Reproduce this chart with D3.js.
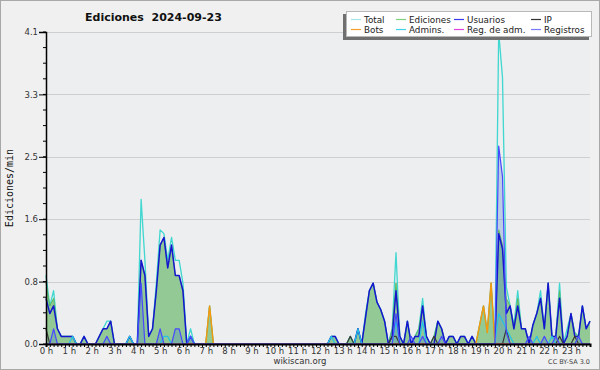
<!DOCTYPE html>
<html><head><meta charset="utf-8">
<script src="https://cdn.jsdelivr.net/npm/d3@7/dist/d3.min.js"></script>
<style>body{margin:0;background:#f0f0f0}svg{display:block}</style>
</head><body><svg id="c" width="600" height="370"></svg>
<script>
// ---- data (10-minute buckets, edits per minute) ----
const hourLabels = ["0 h","1 h","2 h","3 h","4 h","5 h","6 h","7 h","8 h","9 h","10 h","11 h","12 h","13 h","14 h","15 h","16 h","17 h","18 h","19 h","20 h","21 h","22 h","23 h"];
const yTickValues = [0, 0.82, 1.64, 2.46, 3.28, 4.1];
const yTickLabels = ["0.0","0.8","1.6","2.5","3.3","4.1"];
const seriesNames = ["Total","Ediciones","Usuarios","IP","Bots","Admins.","Reg. de adm.","Registros"];
const total = [
 0.9,0.5,0.7,0.2,0.1,0.1, 0.1,0.1,0,0,0.1,0, 0,0,0.1,0.2,0.3,0.3, 0,0,0,0,0.1,0,
 0,1.9,1.1,0.1,0.2,0.8, 1.5,1.45,1.1,1.4,1.1,1.1, 0.8,0,0.2,0,0,0, 0,0.5,0,0,0,0,
 0,0,0,0,0,0, 0,0,0,0,0,0, 0,0,0,0,0,0, 0,0,0,0,0,0,
 0,0,0,0.1,0.1,0, 0,0,0.1,0,0.2,0, 0.4,0.7,0.8,0.55,0.45,0.3, 0,0.2,1.2,0.1,0,0.3,
 0,0.1,0.2,0.6,0.1,0, 0.1,0.3,0.2,0,0.1,0.1, 0,0.1,0.1,0,0.1,0, 0.25,0.5,0.15,0.8,0,4.1,
 3.5,0.75,0.5,0.25,0.7,0.2, 0.2,0,0.25,0.4,0.7,0.2, 0.8,0.1,0.1,0.8,0,0.2, 0.4,0.15,0.1,0.5,0.2,0.3];
const ediciones = [
 0.8,0.5,0.6,0.2,0.1,0.1, 0.1,0.1,0,0,0.1,0, 0,0,0.1,0.2,0.2,0.3, 0,0,0,0,0.1,0,
 0,1.1,0.9,0.1,0.2,0.7, 1.3,1.4,1.0,1.3,0.9,0.9, 0.7,0,0.1,0,0,0, 0,0.5,0,0,0,0,
 0,0,0,0,0,0, 0,0,0,0,0,0, 0,0,0,0,0,0, 0,0,0,0,0,0,
 0,0,0,0.1,0.1,0, 0,0,0.1,0,0.2,0, 0.35,0.7,0.8,0.55,0.45,0.3, 0,0.2,0.8,0.1,0,0.3,
 0,0.1,0.2,0.5,0.1,0, 0.1,0.3,0.2,0,0.1,0.1, 0,0.1,0.1,0,0.1,0, 0.25,0.5,0.15,0.8,0,1.5,
 1.3,0.6,0.5,0.2,0.6,0.2, 0.2,0,0.25,0.4,0.6,0.2, 0.8,0.1,0.1,0.7,0,0.1, 0.4,0.15,0.1,0.5,0.2,0.3];
const usuarios = [
 0.6,0.4,0.5,0.2,0.1,0.1, 0.1,0.1,0,0,0.1,0, 0,0,0.1,0.2,0.2,0.3, 0,0,0,0,0.1,0,
 0,1.1,0.9,0.1,0.2,0.7, 1.3,1.4,1.0,1.3,0.9,0.9, 0.7,0,0.1,0,0,0, 0,0,0,0,0,0,
 0,0,0,0,0,0, 0,0,0,0,0,0, 0,0,0,0,0,0, 0,0,0,0,0,0,
 0,0,0,0.1,0.1,0, 0,0,0,0,0.2,0, 0.35,0.7,0.8,0.55,0.45,0.3, 0,0.1,0.7,0.1,0,0.3,
 0,0.1,0.1,0.5,0.1,0, 0,0.3,0.2,0,0.1,0.1, 0,0.1,0.1,0,0.1,0, 0,0,0,0,0,1.45,
 1.25,0.4,0.5,0.2,0.5,0.2, 0.2,0,0.25,0.4,0.6,0.2, 0.8,0.1,0.1,0.6,0,0.1, 0.4,0.1,0.1,0.5,0.2,0.3];
const ip = [
 0.2,0,0,0,0,0, 0,0,0,0,0,0, 0,0,0,0,0,0, 0,0,0,0,0,0,
 0,0,0,0,0,0, 0,0,0,0,0,0, 0,0,0,0,0,0, 0,0,0,0,0,0,
 0,0,0,0,0,0, 0,0,0,0,0,0, 0,0,0,0,0,0, 0,0,0,0,0,0,
 0,0,0,0,0,0, 0,0,0.1,0,0,0, 0,0,0,0,0,0, 0,0.1,0.1,0,0,0,
 0,0,0,0,0,0, 0.1,0,0,0,0,0, 0,0,0,0,0,0, 0,0,0,0,0,0,
 0,0.2,0,0,0,0, 0,0,0,0,0,0, 0,0,0,0.1,0,0, 0,0.1,0,0,0,0];
const bots = [
 0,0,0,0,0,0, 0,0,0,0,0,0, 0,0,0,0,0,0, 0,0,0,0,0,0,
 0,0,0,0,0,0, 0,0,0,0,0,0, 0,0,0,0,0,0, 0,0.5,0,0,0,0,
 0,0,0,0,0,0, 0,0,0,0,0,0, 0,0,0,0,0,0, 0,0,0,0,0,0,
 0,0,0,0,0,0, 0,0,0,0,0,0, 0,0,0,0,0,0, 0,0,0,0,0,0,
 0,0,0,0,0,0, 0,0,0,0,0,0, 0,0,0,0,0,0, 0.25,0.5,0.15,0.8,0,0,
 0,0,0,0,0,0, 0,0,0,0,0,0, 0,0,0,0,0,0, 0,0,0,0,0,0];
const admins = [
 0,0,0,0,0,0, 0,0.1,0,0,0,0, 0,0,0,0,0,0, 0,0,0,0,0.1,0,
 0,0,0,0,0,0, 0,0.1,0.1,0,0,0, 0,0,0.1,0,0,0, 0,0,0,0,0,0,
 0,0,0,0,0,0, 0,0,0,0,0,0, 0,0,0,0,0,0, 0,0,0,0,0,0,
 0,0,0,0.1,0,0, 0,0,0,0,0.2,0, 0,0,0,0,0,0, 0,0,0.3,0,0,0,
 0,0,0,0.3,0,0, 0,0,0,0,0,0, 0,0,0,0,0,0, 0,0,0,0,0,0.4,
 0.3,0.2,0.1,0,0,0, 0,0,0,0.1,0,0, 0,0.1,0,0,0,0, 0,0,0,0,0,0];
const regAdm = [
 0,0,0,0,0,0, 0,0,0,0,0,0, 0,0,0,0,0,0, 0,0,0,0,0,0,
 0,0,0,0,0,0, 0,0,0,0,0,0, 0,0,0,0,0,0, 0,0,0,0,0,0,
 0,0,0,0,0,0, 0,0,0,0,0,0, 0,0,0,0,0,0, 0,0,0,0,0,0,
 0,0,0,0,0,0, 0,0,0,0,0,0, 0,0,0,0,0,0, 0,0,0,0,0,0,
 0,0,0,0,0,0, 0,0,0,0,0,0, 0,0,0,0,0,0, 0,0,0,0,0,0,
 0,0,0,0,0,0, 0,0,0,0,0,0, 0,0,0,0,0,0, 0,0,0,0,0,0];
const registros = [
 0,0,0.2,0,0,0, 0,0,0,0,0,0, 0,0,0,0,0.1,0, 0,0,0,0,0,0,
 0,0.8,0,0,0,0, 0.2,0,0,0,0.2,0.2, 0,0,0.1,0,0,0, 0,0,0,0,0,0,
 0,0,0,0,0,0, 0,0,0,0,0,0, 0,0,0,0,0,0, 0,0,0,0,0,0,
 0,0,0,0,0,0, 0,0,0,0,0,0, 0,0,0,0,0,0, 0,0,0.4,0,0,0,
 0.1,0,0,0.1,0,0, 0,0,0.1,0,0,0, 0,0,0,0,0,0, 0,0,0,0,0,2.6,
 2.2,0.15,0,0,0,0, 0,0.1,0,0,0,0.1, 0,0,0.1,0,0,0, 0,0,0.1,0,0,0];

// ---- layout ----
const W = 600, H = 370;
const L = 46, R = 590, T = 32, B = 344;
const svg = d3.select("#c");
svg.append("rect").attr("x",0.5).attr("y",0.5).attr("width",W-1).attr("height",H-1)
  .attr("fill","#f0f0f0").attr("stroke","#a8a8a8");
svg.append("rect").attr("x",L).attr("y",T).attr("width",R-L).attr("height",B-T).attr("fill","#eceef0");

const n = total.length;
const x = d3.scaleLinear().domain([0, n-1]).range([L, R]);
const y = d3.scaleLinear().domain([0, 4.1]).range([B, T]);

// grid
svg.append("g").selectAll("line").data(yTickValues.slice(1)).join("line")
  .attr("x1",L).attr("x2",R).attr("y1",d=>Math.round(y(d))+0.5).attr("y2",d=>Math.round(y(d))+0.5)
  .attr("stroke","#cfcfcf").attr("stroke-width",1);

const plot = svg.append("g");
const idx = d3.range(n);
const lineOf = arr => d3.line().x(i=>x(i)).y(i=>y(arr[i]))(idx);
const areaOf = arr => d3.area().x(i=>x(i)).y0(B).y1(i=>y(arr[i]))(idx);

// Ediciones filled area, Registros translucent area
plot.append("path").attr("d", areaOf(ediciones)).attr("fill","#93c995");
plot.append("path").attr("d", areaOf(registros)).attr("fill","#4a86c8").attr("fill-opacity",0.3);
const draw = (arr, color, w) => plot.append("path").attr("d", lineOf(arr))
  .attr("fill","none").attr("stroke",color).attr("stroke-width",w).attr("stroke-linejoin","round");
draw(total, "#3fd7cf", 1.3);
draw(ediciones, "#5fb860", 1);
draw(usuarios, "#1515cf", 1.5);
draw(ip, "#3a3a3a", 1.2);
draw(bots, "#f39a12", 1.5);
draw(admins, "#26c2e6", 1.2);
draw(regAdm, "#d23cd2", 1);
draw(registros, "#4848ff", 1.2);

// axes
const fontT = "DejaVu Sans, sans-serif";
const yAxis = d3.axisLeft(y).tickValues(yTickValues).tickFormat((d,i)=>yTickLabels[i]).tickSize(7).tickPadding(1);
const gy = svg.append("g").attr("transform",`translate(${L},0)`).call(yAxis);
const minorY = d3.range(0, 21).map(k => k*0.205);
svg.append("g").selectAll("line").data(minorY).join("line")
  .attr("x1",L-3).attr("x2",L).attr("y1",d=>y(d)).attr("y2",d=>y(d)).attr("stroke","#000");
gy.select(".domain").attr("stroke","#000").attr("stroke-width",1.5);
gy.selectAll("text").attr("font-family",fontT).attr("font-size",8.5).attr("fill","#333");

const xAxis = d3.axisBottom(x).tickValues(idx)
  .tickFormat(i => i % 6 === 0 ? hourLabels[i/6] : "").tickSize(3).tickPadding(1);
const gx = svg.append("g").attr("transform",`translate(0,${B})`).call(xAxis);
gx.select(".domain").attr("stroke","#000").attr("stroke-width",2);
gx.selectAll(".tick line").attr("stroke","#000");
gx.selectAll("text").attr("font-family",fontT).attr("font-size",8.5).attr("fill","#333");

// title & labels
svg.append("text").attr("x",85).attr("y",21).text("Ediciones  2024-09-23")
  .attr("font-family",fontT).attr("font-weight","bold").attr("font-size",11).attr("fill","#111")
  .style("white-space","pre");
svg.append("text").attr("transform","translate(13,188) rotate(-90)").attr("text-anchor","middle")
  .text("Ediciones/min").attr("font-family","DejaVu Sans Mono, monospace").attr("font-size",10).attr("fill","#111");
svg.append("text").attr("x",300).attr("y",364).attr("text-anchor","middle").text("wikiscan.org")
  .attr("font-family",fontT).attr("font-size",8.5).attr("fill","#333");
svg.append("text").attr("x",590).attr("y",364).attr("text-anchor","end").text("CC BY-SA 3.0")
  .attr("font-family",fontT).attr("font-size",6.5).attr("fill","#444");

// legend
const legColors = ["#a8e6e6","#7fd07f","#3a3af0","#333333","#f5a030","#40d0e8","#dd44dd","#7878ff"];
const lg = svg.append("g");
lg.append("rect").attr("x",343).attr("y",14).attr("width",246).attr("height",26).attr("fill","#707070");
lg.append("rect").attr("x",346.5).attr("y",11.5).attr("width",245).attr("height",25).attr("fill","#fff").attr("stroke","#b8b8b8");
const colX = [351, 396, 454, 531];
seriesNames.forEach((name, k) => {
  const cx = colX[k%4], cy = k < 4 ? 19.5 : 29.5;
  lg.append("line").attr("x1",cx).attr("x2",cx+10).attr("y1",cy).attr("y2",cy)
    .attr("stroke",legColors[k]).attr("stroke-width",1.2);
  lg.append("text").attr("x",cx+13).attr("y",cy+3.5).text(name)
    .attr("font-family",fontT).attr("font-size",8.8).attr("fill","#222");
});
</script>
</body></html>
